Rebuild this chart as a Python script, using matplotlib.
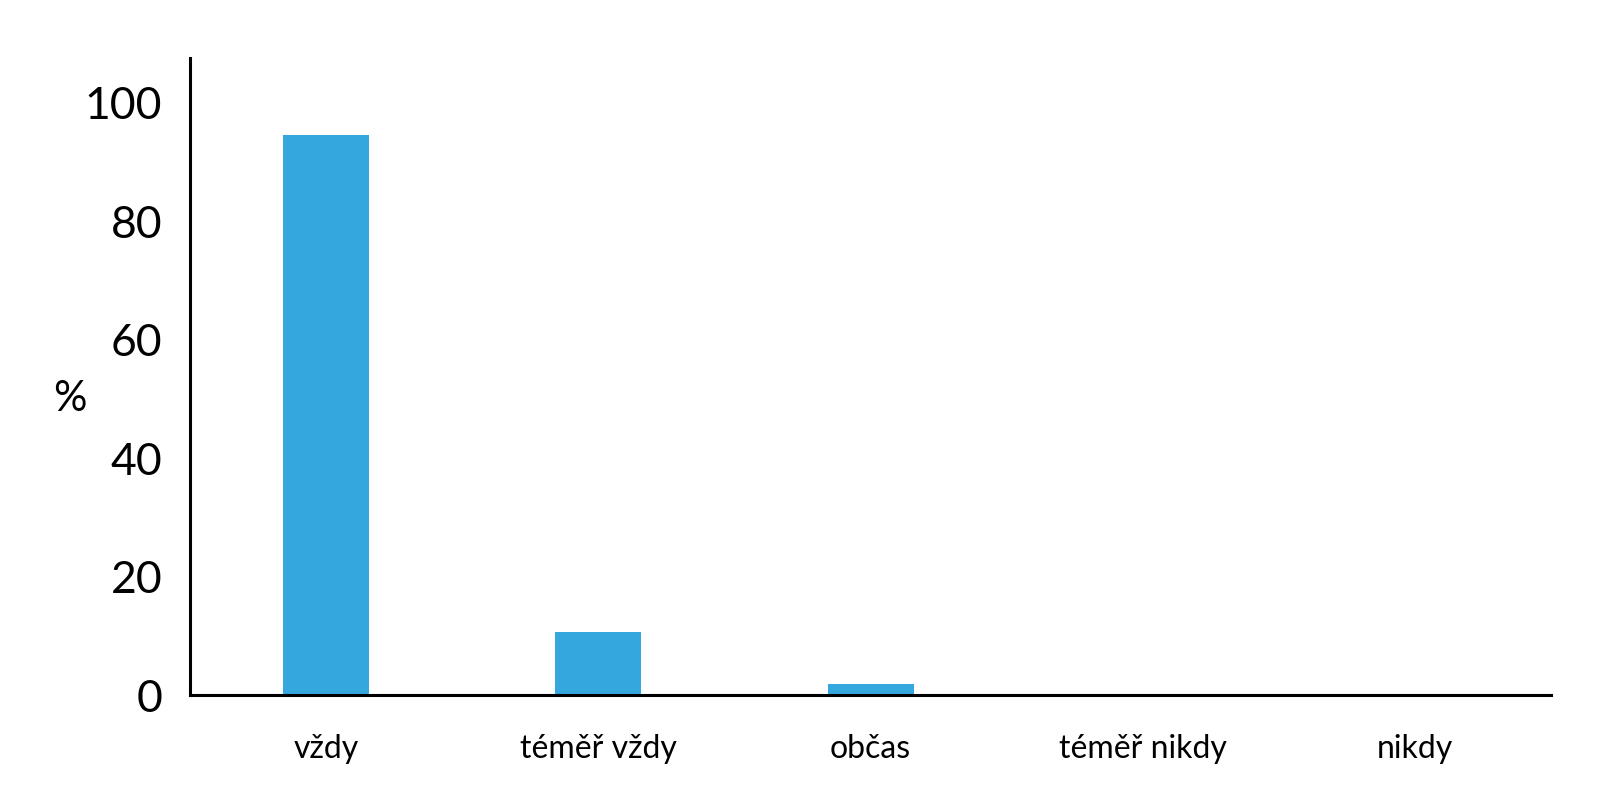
import matplotlib
matplotlib.use('Agg')
import matplotlib.pyplot as plt

categories = ['vždy', 'téměř vždy', 'občas', 'téměř nikdy', 'nikdy']
values = [94.6, 10.6, 1.9, 0, 0]
yticks = [0, 20, 40, 60, 80, 100]

plt.rcParams['font.family'] = ['Lato', 'DejaVu Sans']

fig = plt.figure(figsize=(16.16, 8), dpi=100)
ax = fig.add_axes([0.1176, 0.13125, 0.8422, 0.79625])

x = range(len(categories))
ax.bar(x, values, width=0.316, color='#35a7df')

ax.set_xlim(-0.5, 4.5)
ax.set_ylim(0, 107.6)
ax.set_yticks(yticks)
ax.set_xticks(list(x))
ax.set_xticklabels(categories, fontsize=23)
ax.tick_params(axis='y', length=0, pad=20, labelsize=32)
ax.tick_params(axis='x', length=0, pad=28)

for s in ['top', 'right']:
    ax.spines[s].set_visible(False)
for s in ['left', 'bottom']:
    ax.spines[s].set_linewidth(2.2)
    ax.spines[s].set_color('black')

ax.set_ylabel('%', rotation=0, fontsize=30, va='center', ha='center')
ax.yaxis.set_label_coords(-0.088, 0.465)

fig.savefig('out.png', dpi=100)
